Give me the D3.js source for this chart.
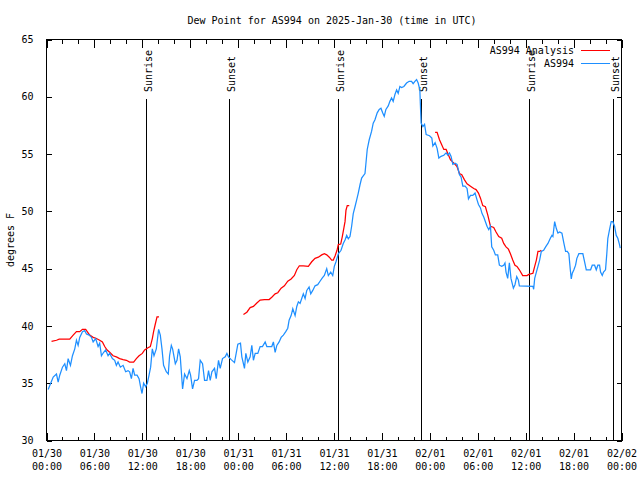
<!DOCTYPE html>
<html>
<head>
<meta charset="utf-8">
<script src="https://cdn.jsdelivr.net/npm/d3@7"></script>
<style>
  html, body { margin: 0; padding: 0; background: #fff; }
  svg { display: block; }
  text { font-family: "DejaVu Sans Mono", "Liberation Mono", monospace; font-size: 10px; fill: #000; }
</style>
</head>
<body>
<svg id="chart" width="640" height="480"></svg>
<script>
// ---------------- DATA ----------------
const title = "Dew Point for AS994 on 2025-Jan-30 (time in UTC)";
const yLabel = "degrees F";
const startUTC = Date.UTC(2025, 0, 30, 0, 0);
const endUTC = Date.UTC(2025, 1, 2, 0, 0);
const yTicks = [30, 35, 40, 45, 50, 55, 60, 65];
const seriesNames = ["AS994 Analysis", "AS994"];
const seriesColors = ["#ff0000", "#1e8fff"];

// hours since 2025-01-30 00:00 UTC
const sunHours = [12.5, 22.9, 36.54, 46.95, 60.45, 70.95];
const sunLabels = ["Sunrise", "Sunset", "Sunrise", "Sunset", "Sunrise", "Sunset"];

// AS994 observations
const obsHours = [0.21,0.41,0.84,1.25,1.46,1.66,2.0,2.29,2.5,2.71,3.0,3.25,3.54,3.75,3.96,4.16,4.5,4.79,5.0,5.34,5.63,5.84,6.16,6.46,6.66,6.88,7.16,7.41,7.71,7.91,8.25,8.54,8.75,8.96,9.25,9.59,9.91,10.21,10.41,10.63,10.84,11.04,11.34,11.59,11.75,11.96,12.16,12.41,12.63,12.84,13.04,13.25,13.46,13.75,14.04,14.25,14.46,14.66,15.0,15.25,15.41,15.63,15.79,16.13,16.34,16.54,16.75,17.04,17.29,17.59,17.88,18.04,18.29,18.54,18.84,19.04,19.25,19.54,19.79,20.09,20.29,20.5,20.71,21.04,21.25,21.54,21.75,22.04,22.38,22.59,22.79,23.13,23.54,23.75,23.96,24.29,24.46,24.66,24.79,24.96,25.21,25.5,25.71,25.91,26.13,26.46,26.75,27.04,27.38,27.59,28.0,28.21,28.41,28.63,28.84,29.13,29.38,29.66,29.96,30.21,30.38,30.63,30.84,31.13,31.34,31.54,31.75,31.96,32.16,32.38,32.59,32.88,33.09,33.34,33.63,33.96,34.25,34.54,34.79,35.09,35.29,35.59,35.84,36.04,36.25,36.54,36.88,37.16,37.38,37.59,37.79,38.0,38.21,38.41,38.63,38.84,39.04,39.25,39.46,39.66,39.88,40.0,40.16,40.41,40.71,40.91,41.13,41.41,41.66,41.88,42.09,42.29,42.5,42.79,43.0,43.21,43.41,43.63,43.84,44.04,44.25,44.46,44.75,45.09,45.41,45.71,45.91,46.13,46.34,46.54,46.75,46.84,46.91,47.13,47.34,47.54,47.96,48.25,48.38,48.66,48.91,49.13,49.41,49.75,50.04,50.25,50.46,50.66,50.88,51.16,51.41,51.71,51.91,52.13,52.41,52.66,52.84,53.09,53.38,53.66,53.91,54.09,54.34,54.54,54.75,54.96,55.16,55.38,55.59,55.75,56.0,56.21,56.5,56.71,57.0,57.25,57.41,57.54,57.75,57.96,58.16,58.46,58.66,58.88,59.09,59.21,60.91,61.0,61.13,61.34,61.54,61.75,61.96,62.25,62.5,62.79,63.09,63.29,63.41,63.63,63.84,64.04,64.25,64.54,64.79,65.0,65.21,65.41,65.59,65.71,65.84,66.04,66.25,66.41,66.66,66.96,67.16,67.38,67.59,67.91,68.13,68.34,68.63,68.84,69.04,69.25,69.38,69.59,69.75,70.0,70.16,70.29,70.5,70.71,70.91,71.13,71.34,71.54,71.75,71.84];
const obsValues = [34.46,34.8,35.54,35.8,35.1,35.7,36.4,36.7,36.1,37.15,36.56,37.4,38.0,38.75,38.3,39.0,39.5,39.6,39.3,39.2,39.0,38.6,38.9,38.2,38.5,37.4,37.7,37.9,37.4,37.6,37.15,37.0,36.56,36.85,36.4,36.56,36.0,36.1,36.0,35.4,36.3,35.7,35.7,35.4,34.8,34.1,35.0,34.7,35.0,35.7,36.4,38.0,37.4,38.0,39.7,39.2,38.0,36.56,36.0,35.8,37.4,38.3,38.0,36.7,37.0,38.0,37.3,34.5,35.8,35.4,36.1,35.7,34.5,35.25,35.25,35.4,37.0,36.7,35.25,35.25,36.1,35.25,36.0,36.3,35.4,37.0,36.3,37.15,37.3,37.6,37.3,37.06,36.8,37.6,38.4,38.5,37.3,36.7,36.3,37.6,36.85,37.3,38.3,37.0,37.6,37.6,38.2,38.2,38.6,38.2,38.2,38.2,38.6,37.7,38.3,38.6,39.0,39.2,39.5,39.8,40.5,40.9,41.5,40.9,41.7,42.1,41.96,42.4,42.8,42.4,43.1,43.4,42.8,43.1,43.5,43.6,43.9,44.2,44.4,45.0,44.4,44.7,44.4,45.2,45.6,46.3,46.6,47.2,47.5,47.9,47.6,47.8,48.7,49.8,50.4,51.0,51.6,52.3,52.9,53.1,53.3,54.2,55.4,56.25,57.0,57.7,58.0,58.6,58.9,59.0,58.6,58.3,58.9,59.2,59.6,59.9,59.6,60.2,60.6,60.3,60.9,60.8,60.9,61.2,61.35,61.35,61.15,61.35,61.5,61.2,60.6,58.9,57.7,57.4,57.6,56.7,56.6,56.4,55.7,56.0,55.5,54.65,54.8,54.9,55.1,54.9,55.1,54.8,54.1,54.2,54.1,53.2,53.0,52.2,52.2,52.0,51.1,51.4,51.4,51.6,51.0,50.6,50.3,49.8,49.5,49.1,48.7,48.4,48.7,46.9,46.6,46.2,46.2,45.3,45.2,45.3,45.5,44.7,44.15,45.5,44.15,43.3,43.6,44.3,44.0,43.5,43.45,43.2,44.15,44.7,45.2,45.75,46.5,46.6,46.9,47.2,47.65,47.9,47.8,49.1,48.5,48.1,48.2,48.1,47.2,46.5,46.5,46.3,44.9,44.1,44.6,44.9,45.3,45.9,46.3,46.3,46.3,45.6,44.9,44.9,44.9,45.3,45.3,44.9,45.3,45.3,44.7,44.4,44.7,44.9,46.3,47.65,48.4,49.1,49.1,48.7,47.9,47.65,47.1,46.8];

// AS994 Analysis (null = gap)
const anaHours = [0.63,1.25,1.59,2.91,3.34,3.75,4.16,4.5,4.91,5.21,5.41,5.84,6.25,6.66,7.0,7.29,7.59,7.91,8.34,8.75,9.16,9.59,10.0,10.41,10.91,11.25,11.59,12.0,12.29,12.71,13.0,13.25,13.41,13.59,13.84,14.09,
  19.0,
  24.66,25.09,25.5,25.91,26.34,26.75,27.29,27.88,28.21,28.63,28.96,29.38,29.79,30.21,30.63,31.04,31.34,31.66,32.16,32.79,33.21,33.63,34.04,34.46,34.79,35.09,35.41,35.71,35.91,36.13,36.38,36.54,36.84,37.04,37.25,37.38,37.5,37.66,37.91,
  43.0,
  48.66,48.91,49.21,49.5,49.75,50.04,50.34,50.59,50.88,51.16,51.41,51.71,52.0,52.34,52.66,53.09,53.5,53.79,54.09,54.34,54.63,54.96,55.25,55.59,56.0,56.29,56.63,57.0,57.25,57.54,57.84,58.09,58.38,58.66,58.91,59.21,59.63,60.16,60.41,60.91,61.13,61.34,61.54,61.75,61.96];
const anaValues = [38.66,38.75,38.84,38.84,39.2,39.5,39.5,39.7,39.7,39.4,39.2,39.0,38.9,38.75,38.6,38.2,37.9,37.7,37.4,37.3,37.15,37.06,37.0,36.85,36.85,37.15,37.4,37.6,37.9,38.1,38.2,38.9,39.5,40.06,40.8,40.8,
  null,
  41.0,41.2,41.6,41.7,42.0,42.25,42.3,42.3,42.5,42.8,42.9,43.3,43.5,43.9,44.1,44.4,44.9,45.25,45.25,45.2,45.6,45.9,46.0,46.2,46.3,46.2,46.0,45.75,45.75,46.1,46.6,47.1,47.15,47.8,48.6,49.1,50.1,50.5,50.5,
  null,
  56.9,56.9,56.25,55.8,55.4,55.4,54.9,54.5,54.3,54.1,53.9,53.3,53.2,52.75,52.4,52.2,52.0,51.9,51.6,51.15,50.5,50.4,49.7,48.7,48.6,48.2,47.8,47.65,47.2,46.9,46.7,46.3,45.75,45.3,45.2,44.9,44.4,44.4,44.5,44.6,45.2,45.75,46.5,46.5,46.6];

// ---------------- CHART ----------------
const svg = d3.select("#chart");
const L = 46.5, R = 621.5, T = 39.5, B = 440.5;
const toDate = h => new Date(startUTC + h * 3600e3);

const x = d3.scaleUtc().domain([new Date(startUTC), new Date(endUTC)]).range([L, R]);
const y = d3.scaleLinear().domain([30, 65]).range([B, T]);

// ticks every 2 hours, major every 6
const allTicks = d3.utcHour.every(2).range(new Date(startUTC), new Date(endUTC + 1));
const majorTicks = allTicks.filter(d => d.getUTCHours() % 6 === 0);
const minorTicks = allTicks.filter(d => d.getUTCHours() % 6 !== 0);
const fmtDay = d3.utcFormat("%m/%d"), fmtTime = d3.utcFormat("%H:%M");

// bottom axis (major with labels)
const gxB = svg.append("g").attr("transform", `translate(0,${B})`)
  .call(d3.axisBottom(x).tickValues(majorTicks).tickSizeInner(-8).tickSizeOuter(0).tickPadding(0).tickFormat(""));
gxB.select(".domain").remove();
gxB.selectAll(".tick text").remove();
gxB.selectAll(".tick").each(function(d) {
  const t = d3.select(this).append("text").attr("text-anchor", "middle").attr("y", 0);
  t.append("tspan").attr("x", 0).attr("y", 16).text(fmtDay(d));
  t.append("tspan").attr("x", 0).attr("y", 29).text(fmtTime(d));
});
svg.append("g").attr("transform", `translate(0,${B})`)
  .call(d3.axisBottom(x).tickValues(minorTicks).tickSizeInner(-4).tickSizeOuter(0).tickFormat(""))
  .select(".domain").remove();
// top axis ticks
svg.append("g").attr("transform", `translate(0,${T})`)
  .call(d3.axisTop(x).tickValues(majorTicks).tickSizeInner(-8).tickSizeOuter(0).tickFormat(""))
  .select(".domain").remove();
svg.append("g").attr("transform", `translate(0,${T})`)
  .call(d3.axisTop(x).tickValues(minorTicks).tickSizeInner(-4).tickSizeOuter(0).tickFormat(""))
  .select(".domain").remove();

// left axis
const gyL = svg.append("g").attr("transform", `translate(${L},0)`)
  .call(d3.axisLeft(y).tickValues(yTicks).tickSizeInner(-5).tickSizeOuter(0).tickPadding(13).tickFormat(d3.format("d")));
gyL.select(".domain").remove();
gyL.selectAll(".tick text").attr("font-family", null).attr("font-size", null);
// right axis ticks
svg.append("g").attr("transform", `translate(${R},0)`)
  .call(d3.axisRight(y).tickValues(yTicks).tickSizeInner(-5).tickSizeOuter(0).tickFormat(""))
  .select(".domain").remove();
gxB.selectAll("text").attr("font-family", null).attr("font-size", null);
svg.selectAll(".tick line").attr("stroke", "#000").attr("shape-rendering", "crispEdges");

// frame
svg.append("rect").attr("x", L).attr("y", T).attr("width", R - L).attr("height", B - T)
  .attr("fill", "none").attr("stroke", "#000").attr("shape-rendering", "crispEdges");

// sun lines and labels
const sunTop = y(59.8);
sunHours.forEach((h, i) => {
  const xs = Math.round(x(toDate(h))) + 0.5;
  svg.append("line").attr("x1", xs).attr("x2", xs).attr("y1", sunTop).attr("y2", B)
    .attr("stroke", "#000").attr("stroke-width", 1).attr("shape-rendering", "crispEdges");
  svg.append("text").attr("transform", `translate(${xs + 1.5},${sunTop - 7}) rotate(-90)`)
    .attr("dy", "0.35em").attr("text-anchor", "start").text(sunLabels[i]);
});

// series lines
const line = d3.line()
  .defined(d => d.v !== null)
  .x(d => x(toDate(d.h)))
  .y(d => y(d.v));
const anaData = anaHours.map((h, i) => ({ h, v: anaValues[i] }));
const obsData = obsHours.map((h, i) => ({ h, v: obsValues[i] }));

svg.append("path").datum(anaData).attr("d", line)
  .attr("fill", "none").attr("stroke", seriesColors[0]).attr("stroke-width", 1.25);
svg.append("path").datum(obsData).attr("d", line)
  .attr("fill", "none").attr("stroke", seriesColors[1]).attr("stroke-width", 1.25);

// legend
seriesNames.forEach((name, i) => {
  const ly = 50 + i * 13;
  svg.append("text").attr("x", 574).attr("y", ly).attr("dy", "0.35em").attr("text-anchor", "end").text(name);
  svg.append("line").attr("x1", 581).attr("x2", 610).attr("y1", ly + 0.5).attr("y2", ly + 0.5)
    .attr("stroke", seriesColors[i]).attr("stroke-width", 1).attr("shape-rendering", "crispEdges");
});

// title and y label
svg.append("text").attr("x", 332).attr("y", 20).attr("dy", "0.35em").attr("text-anchor", "middle").text(title);
svg.append("text").attr("transform", `translate(10,240) rotate(-90)`).attr("dy", "0.35em")
  .attr("text-anchor", "middle").text(yLabel);
</script>
</body>
</html>
